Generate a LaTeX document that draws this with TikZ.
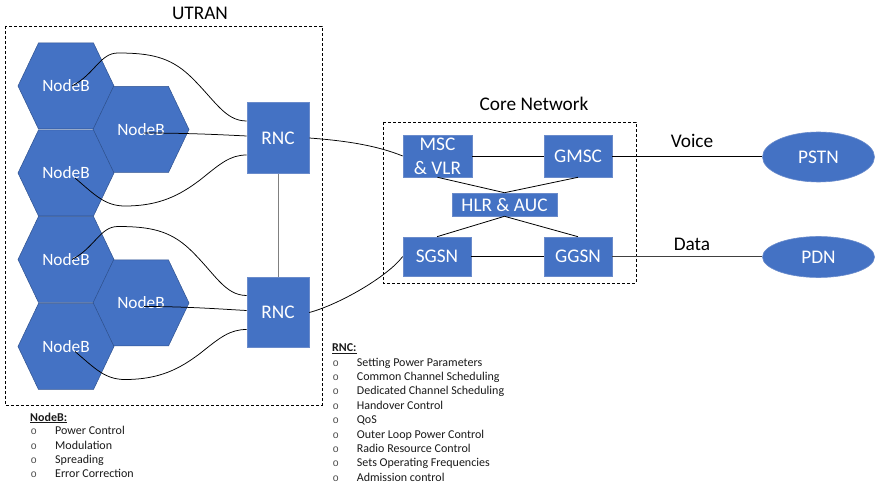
\documentclass[tikz,border=0pt]{standalone}
\usepackage{fontspec}
\setmainfont{Carlito}
\newfontfamily\bulletfont{Liberation Mono}
\usetikzlibrary{shapes.geometric,calc}
\definecolor{cellblue}{HTML}{4472C4}
\definecolor{celledge}{HTML}{2F528F}
\definecolor{boxedge}{HTML}{6A8BCB}

% one hexagonal NodeB cell: #1 name, #2 x, #3 y
\newcommand\NodeBCell[3]{%
  \path[hexcell,shift={(#2,#3)}] (-48,0) -- (-27.5,-43) -- (27.5,-43) -- (48,0)
      -- (27.5,43) -- (-27.5,43) -- cycle;
  \node[nbtext] (#1) at (#2,#3) {NodeB};}

% hollow list bullet
\newcommand\listdot{{\bulletfont\fontsize{10.5}{12}\selectfont\color{black!70}o}}

\begin{document}
\begin{tikzpicture}[x=1pt,y=-1pt,
  hexcell/.style={fill=cellblue,draw=celledge,line width=0.5pt},
  nbtext/.style={text=white,font=\fontsize{17.3}{20}\selectfont,inner sep=0pt},
  unit/.style={rectangle,fill=cellblue,draw=boxedge,line width=0.6pt,text=white,
    font=\fontsize{19.3}{24}\selectfont,inner sep=0pt,align=center},
  cloud/.style={ellipse,fill=cellblue,draw=boxedge,line width=0.6pt,text=white,
    font=\fontsize{19.3}{24}\selectfont,inner sep=0pt},
  wire/.style={draw=black,line width=0.75pt},
  link/.style={draw=black,line width=0.8pt},
  group/.style={draw=black,line width=0.6pt,dash pattern=on 3pt off 2pt},
  title/.style={font=\fontsize{19.3}{24}\selectfont,inner sep=0pt,text=black},
  listline/.style={anchor=base west,inner sep=0pt,font=\fontsize{12}{14}\selectfont,text=black!90},
]
\path[use as bounding box] (0,0) rectangle (876,486);

% dashed groups
\draw[group] (5,26) rectangle (322,405);
\draw[group] (383,122) rectangle (636,283);
\node[title] (utranlbl) at (200,13) {UTRAN};
\node[title] (corelbl) at (534,104) {Core Network};

% NodeB cells
\NodeBCell{nbA}{66}{86}
\NodeBCell{nbB}{141}{129.5}
\NodeBCell{nbC}{66}{173}
\NodeBCell{nbD}{66}{259.5}
\NodeBCell{nbE}{141}{303}
\NodeBCell{nbF}{66}{346.5}

% radio network controllers
\node[unit,minimum width=62,minimum height=71] (rnc1) at (278,138) {RNC};
\node[unit,minimum width=62,minimum height=70] (rnc2) at (278,312.5) {RNC};
\draw[draw=black!50,line width=1pt] (rnc1) -- (rnc2);

% NodeB to RNC wiring
\foreach \a/\b/\c/\r in {nbA/nbB/nbC/rnc1,nbD/nbE/nbF/rnc2}{
  \draw[wire] ($(\a.center)+(6,0)$) .. controls +(23,-12) and +(-18,0) .. ++(46,-33)
     .. controls +(32,0) and +(-20,-19) .. ++(72,23)
     .. controls +(25,24) and +(-22,0) .. ($(\r.west)+(0,-17)$);
  \draw[wire] ($(\b.center)+(3,3.5)$) .. controls +(45,0) and +(-20,-1) .. ($(\r.west)+(0,-2)$);
  \draw[wire] ($(\c.center)+(9,5)$) .. controls +(20,17) and +(-20,0) .. ++(50,28)
     .. controls +(35,0) and +(-20,15) .. ++(75,-26)
     .. controls +(20,-16) and +(-17,0) .. ($(\r.west)+(0,17)$);
}

% core network elements
\node[unit,minimum width=69,minimum height=42] (msc) at (437.5,156) {MSC\\\& VLR};
\node[unit,minimum width=68,minimum height=42] (gmsc) at (578,156) {GMSC};
\node[unit,minimum width=105,minimum height=23] (hlr) at (504.5,204.5) {HLR \& AUC};
\node[unit,minimum width=68,minimum height=39] (sgsn) at (437,256.5) {SGSN};
\node[unit,minimum width=68,minimum height=39] (ggsn) at (578,256.5) {GGSN};

% external networks
\node[cloud,minimum width=112,minimum height=50] (pstn) at (818.5,157) {PSTN};
\node[cloud,minimum width=112,minimum height=41] (pdn) at (818.5,257) {PDN};

% core links
\draw[link] (msc) -- (gmsc);
\draw[link] (msc.south) -- (hlr.north);
\draw[link] (gmsc.south) -- (hlr.north);
\draw[link] (hlr.south) -- (sgsn.north);
\draw[link] (hlr.south) -- (ggsn.north);
\draw[link] (sgsn) -- (ggsn);
\draw[link] (gmsc.east) -- (gmsc.east -| pstn.west);
\draw[link,draw=black!75] (ggsn.east) -- (ggsn.east -| pdn.west);
\node[title] (voicelbl) at (692,141.3) {Voice};
\node[title] (datalbl) at (692,244.7) {Data};

% RNC to core
\draw[wire] (rnc1.east) .. controls +(40,3) and +(-25,-10) .. (msc.west);
\draw[wire] (rnc2.east) .. controls +(30,-8) and +(-15,20) .. (sgsn.west);

% function lists
\node[listline,font=\fontsize{12}{14}\selectfont\bfseries] (rnchead) at (332,351.6) {\underline{RNC:}};
\foreach \t [count=\i] in {Setting Power Parameters,Common Channel Scheduling,
    Dedicated Channel Scheduling,Handover Control,QoS,Outer Loop Power Control,
    Radio Resource Control,Sets Operating Frequencies,Admission control}{
  \node[listline] (rncfn\i) at (332.5,{366.2+14.375*(\i-1)}) {\makebox[24.2pt][l]{\listdot}\t};
}
\node[listline,font=\fontsize{12}{14}\selectfont\bfseries] (nbhead) at (30,421.2) {\underline{NodeB:}};
\foreach \t [count=\i] in {Power Control,Modulation,Spreading,Error Correction}{
  \node[listline] (nbfn\i) at (30.5,{434.9+14.33*(\i-1)}) {\makebox[24.5pt][l]{\listdot}\t};
}
\end{tikzpicture}
\end{document}
